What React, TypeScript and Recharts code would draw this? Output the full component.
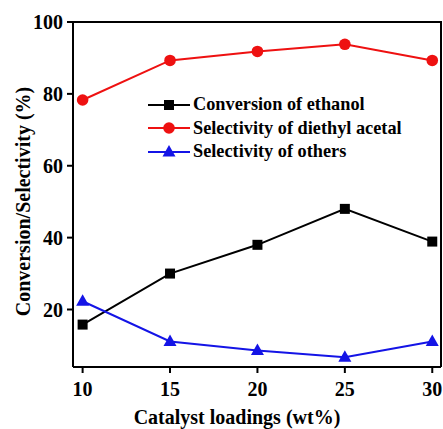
import React from "react";
import { LineChart, Line, XAxis, YAxis } from "recharts";

const loadings = [10, 15, 20, 25, 30];
const conversionEthanol = [15.8, 30, 38, 48, 38.9];
const selectivityDiethylAcetal = [78.3, 89.3, 91.8, 93.8, 89.3];
const selectivityOthers = [22.3, 11.1, 8.6, 6.7, 11.1];
const seriesNames = [
  "Conversion of ethanol",
  "Selectivity of diethyl acetal",
  "Selectivity of others",
];
const xTicks = [10, 15, 20, 25, 30];
const yTicks = [20, 40, 60, 80, 100];
const xDomain = [9.45, 30.5];
const yDomain = [4, 100];

const data = loadings.map((x, i) => ({
  x,
  conv: conversionEthanol[i],
  acetal: selectivityDiethylAcetal[i],
  others: selectivityOthers[i],
}));

const W = 443;
const H = 429;
const MARGIN = { top: 22, right: 2, bottom: 0, left: 0 };
const Y_AXIS_W = 73;
const X_AXIS_H = 62;

const BLACK = "#000000";
const RED = "#ee1111";
const BLUE = "#1414e6";
const FONT = "'Liberation Serif', 'Times New Roman', serif";

const Square = (props: any) => {
  const { cx, cy, index } = props;
  if (cx == null || cy == null) return <g key={`s${index}`} />;
  return <rect key={`s${index}`} x={cx - 5} y={cy - 5} width={10} height={10} fill={BLACK} />;
};
const Circle = (props: any) => {
  const { cx, cy, index } = props;
  if (cx == null || cy == null) return <g key={`c${index}`} />;
  return <circle key={`c${index}`} cx={cx} cy={cy} r={5.8} fill={RED} />;
};
const Tri = (props: any) => {
  const { cx, cy, index } = props;
  if (cx == null || cy == null) return <g key={`t${index}`} />;
  return (
    <polygon
      key={`t${index}`}
      points={`${cx},${cy - 7} ${cx - 6.5},${cy + 4.5} ${cx + 6.5},${cy + 4.5}`}
      fill={BLUE}
    />
  );
};

const LegendBox = () => {
  const items = [
    { color: BLACK, shape: "square" },
    { color: RED, shape: "circle" },
    { color: BLUE, shape: "triangle" },
  ];
  return (
    <div
      style={{
        position: "absolute",
        left: 148,
        top: 93,
        fontFamily: FONT,
        fontWeight: "bold",
        fontSize: 18.3,
        lineHeight: "23.5px",
      }}
    >
      {items.map((it, i) => (
        <div key={i} style={{ display: "flex", alignItems: "center", height: 23.5, whiteSpace: "nowrap" }}>
          <svg width={42} height={16} style={{ marginRight: 3 }}>
            <line x1={0} y1={8} x2={42} y2={8} stroke={it.color} strokeWidth={2} />
            {it.shape === "square" && <rect x={16} y={3} width={10} height={10} fill={it.color} />}
            {it.shape === "circle" && <circle cx={21} cy={8} r={5.8} fill={it.color} />}
            {it.shape === "triangle" && <polygon points="21,1 14.5,12.5 27.5,12.5" fill={it.color} />}
          </svg>
          <span style={{ color: "#000" }}>{seriesNames[i]}</span>
        </div>
      ))}
    </div>
  );
};

const FrameBox = () => {
  const left = MARGIN.left + Y_AXIS_W;
  const top = MARGIN.top;
  const right = W - MARGIN.right;
  const bottom = H - MARGIN.bottom - X_AXIS_H;
  return (
    <div
      style={{
        position: "absolute",
        left: left,
        top: top - 1,
        width: right - left + 1,
        height: bottom - top + 1,
        borderTop: "2px solid #000",
        borderRight: "2px solid #000",
        boxSizing: "border-box",
        pointerEvents: "none",
      }}
    />
  );
};

const tickStyle = { fontFamily: FONT, fontWeight: "bold", fontSize: 20, fill: "#000" };

export default function App() {
  return (
    <div style={{ position: "absolute", left: 0, top: 0, width: W, height: H, background: "#fff" }}>
      <LineChart width={W} height={H} data={data} margin={MARGIN}>
        <XAxis
          dataKey="x"
          type="number"
          domain={xDomain}
          ticks={xTicks}
          allowDataOverflow
          height={X_AXIS_H}
          axisLine={{ stroke: BLACK, strokeWidth: 2 }}
          tickLine={{ stroke: BLACK, strokeWidth: 2 }}
          tickSize={6}
          tickMargin={9}
          tick={tickStyle}
          label={{
            content: (p: any) => {
              const vb = p.viewBox || {};
              return (
                <text
                  x={vb.x + vb.width / 2 - 20}
                  y={424}
                  textAnchor="middle"
                  style={{ fontFamily: FONT, fontWeight: "bold", fontSize: 20 }}
                  fill="#000"
                >
                  Catalyst loadings (wt%)
                </text>
              );
            },
          }}
        />
        <YAxis
          type="number"
          domain={yDomain}
          ticks={yTicks}
          allowDataOverflow
          width={Y_AXIS_W}
          axisLine={{ stroke: BLACK, strokeWidth: 2 }}
          tickLine={{ stroke: BLACK, strokeWidth: 2 }}
          tickSize={6}
          tickMargin={4}
          tick={tickStyle}
          label={{
            content: (p: any) => {
              const vb = p.viewBox || {};
              const cy = vb.y + vb.height / 2 + 7;
              return (
                <text
                  x={23}
                  y={cy}
                  transform={`rotate(-90, 23, ${cy})`}
                  textAnchor="middle"
                  dominantBaseline="central"
                  style={{ fontFamily: FONT, fontWeight: "bold", fontSize: 20 }}
                  fill="#000"
                >
                  Conversion/Selectivity (%)
                </text>
              );
            },
          }}
        />
        <Line
          dataKey="conv"
          stroke={BLACK}
          strokeWidth={2}
          dot={Square}
          activeDot={false}
          isAnimationActive={false}
        />
        <Line
          dataKey="acetal"
          stroke={RED}
          strokeWidth={2}
          dot={Circle}
          activeDot={false}
          isAnimationActive={false}
        />
        <Line
          dataKey="others"
          stroke={BLUE}
          strokeWidth={2}
          dot={Tri}
          activeDot={false}
          isAnimationActive={false}
        />
      </LineChart>
      <FrameBox />
      <LegendBox />
    </div>
  );
}
